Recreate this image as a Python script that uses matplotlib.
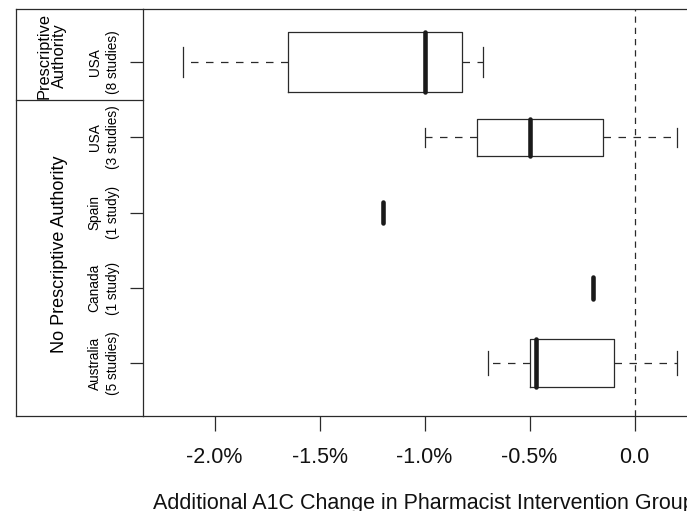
import numpy as np
import matplotlib.pyplot as plt

plt.rcParams['font.family'] = ['Liberation Sans', 'DejaVu Sans']

# rows from bottom to top
sites = ['Australia\n(5 studies)', 'Canada\n(1 study)', 'Spain\n(1 study)',
         'USA\n(3 studies)', 'USA\n(8 studies)']
n_studies = [5, 1, 1, 3, 8]
whislo = [-0.70, -0.20, -1.20, -1.00, -2.15]
q1 = [-0.50, -0.20, -1.20, -0.75, -1.65]
med = [-0.47, -0.20, -1.20, -0.50, -1.00]
q3 = [-0.10, -0.20, -1.20, -0.15, -0.82]
whishi = [0.20, -0.20, -1.20, 0.20, -0.72]

xticks = [-2.0, -1.5, -1.0, -0.5, 0.0]
xtick_labels = ['-2.0%', '-1.5%', '-1.0%', '-0.5%', '0.0']

ink = '#2a2a2a'

stats = []
for i in range(len(sites)):
    stats.append({'whislo': whislo[i], 'q1': q1[i], 'med': med[i],
                  'q3': q3[i], 'whishi': whishi[i], 'fliers': []})
widths = [0.8 * np.sqrt(n / 8) for n in n_studies]
pos = np.arange(1, len(sites) + 1)

fig = plt.figure(figsize=(6.87, 5.11), dpi=100)
ax = fig.add_axes([143.3 / 687, 95 / 511, (703 - 143.3) / 687, 406.7 / 511])

ax.bxp(stats, positions=pos, widths=widths, orientation='horizontal',
       boxprops=dict(color=ink, lw=0.9),
       whiskerprops=dict(color=ink, lw=0.9, ls=(0, (6, 6))),
       capprops=dict(color=ink, lw=0.9),
       medianprops=dict(color='#1a1a1a', lw=3.3, solid_capstyle='round'),
       showfliers=False)

ax.axvline(0, color=ink, lw=0.9, ls=(0, (5, 4)), zorder=0)

ax.set_xlim(-2.34, 0.326)
ax.set_ylim(0.3, 5.7)
ax.set_xticks(xticks)
ax.set_xticklabels(xtick_labels, fontsize=15.5, color='#111111')
ax.set_yticks(pos)
ax.set_yticklabels(sites, rotation=90, ha='center', va='center',
                   multialignment='center', fontsize=9.8, linespacing=1.4)
ax.tick_params(axis='x', length=10.5, width=0.9, color=ink, pad=12)
ax.tick_params(axis='y', length=9.5, width=0.9, color=ink, pad=19)
for s in ax.spines.values():
    s.set_color(ink)
    s.set_linewidth(0.9)

ax.set_xlabel('Additional A1C Change in Pharmacist Intervention Group',
              fontsize=15.5, color='#111111', ha='left', va='baseline')
ax.xaxis.set_label_coords((153 - 143.3) / 559.7, -0.229)

# left panel with the two groups
yt = ax.get_yaxis_transform()
xl = (16 - 143.3) / 559.7
frame = dict(color=ink, lw=0.9, transform=yt, clip_on=False)
ax.plot([xl, 0], [5.7, 5.7], **frame)
ax.plot([xl, 0], [0.3, 0.3], **frame)
ax.plot([xl, xl], [0.3, 5.7], **frame)
ax.plot([xl, 0], [4.5, 4.5], **frame)

ax.text((52 - 143.3) / 559.7, 5.08, 'Prescriptive\nAuthority', transform=yt,
        rotation=90, ha='center', va='center', fontsize=11.8, linespacing=1.0)
ax.text((60 - 143.3) / 559.7, 2.45, 'No Prescriptive Authority', transform=yt,
        rotation=90, ha='center', va='center', fontsize=13)

fig.savefig('out.png', dpi=100)
